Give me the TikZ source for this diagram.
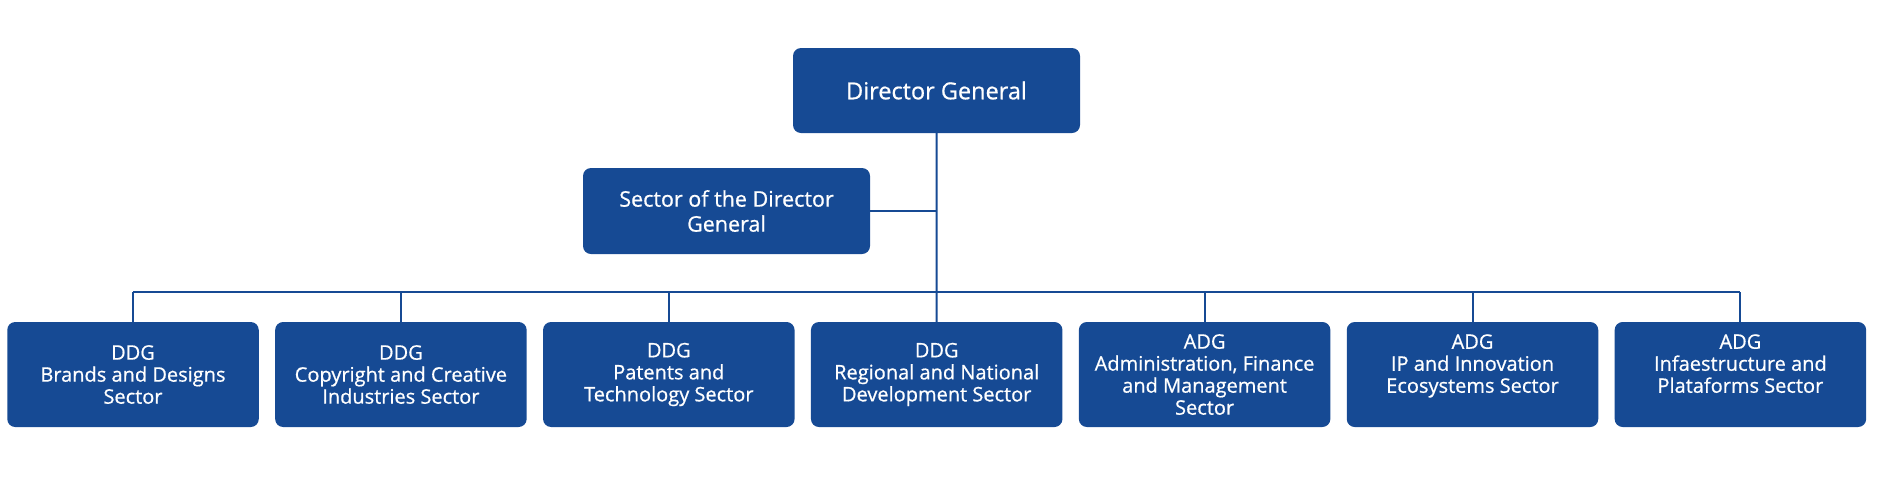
\documentclass[tikz,border=0pt]{standalone}
\usepackage{fontspec}
\setmainfont{Open Sans}[FakeBold=0.7]
\definecolor{wblue}{RGB}{22,74,148}
\begin{document}
\begin{tikzpicture}[x=1pt,y=-1pt,
  box/.style={fill=wblue, rounded corners=8pt, text=white, align=center, inner sep=0pt, draw=none},
  sub/.style={box, minimum width=251.5pt, minimum height=105pt, font=\fontsize{20}{22}\selectfont},
  link/.style={draw=wblue, line width=2pt}]
\useasboundingbox (0,0) rectangle (1878,483);
\node[box, minimum width=287pt, minimum height=85pt, font=\fontsize{23.5}{28}\selectfont] (dg) at (936.5,90.5) {Director General};
\node[box, minimum width=287pt, minimum height=86pt, font=\fontsize{21.5}{25}\selectfont] (sdg) at (726.5,211) {Sector of the Director\\General};
\node[sub] (b1) at (133,374.5) {DDG\\Brands and Designs\\Sector};
\node[sub] (b2) at (400.9,374.5) {DDG\\Copyright and Creative\\Industries Sector};
\node[sub] (b3) at (668.8,374.5) {DDG\\Patents and\\Technology Sector};
\node[sub] (b4) at (936.7,374.5) {DDG\\Regional and National\\Development Sector};
\node[sub] (b5) at (1204.6,374.5) {ADG\\Administration, Finance\\and Management\\Sector};
\node[sub] (b6) at (1472.5,374.5) {ADG\\IP and Innovation\\Ecosystems Sector\\\mbox{}};
\node[sub] (b7) at (1740.4,374.5) {ADG\\Infaestructure and\\Plataforms Sector\\\mbox{}};
\coordinate (busL) at (133,291.5);
\coordinate (busR) at (1740.4,291.5);
\draw[link] (dg.south) -- (b4.north);
\draw[link] (sdg.east) -- (sdg.east -| dg.south);
\draw[link] (busL) -- (busR);
\foreach \b in {b1,b2,b3,b5,b6,b7} \draw[link] (\b.north) -- (\b.north |- busL);
\end{tikzpicture}
\end{document}
